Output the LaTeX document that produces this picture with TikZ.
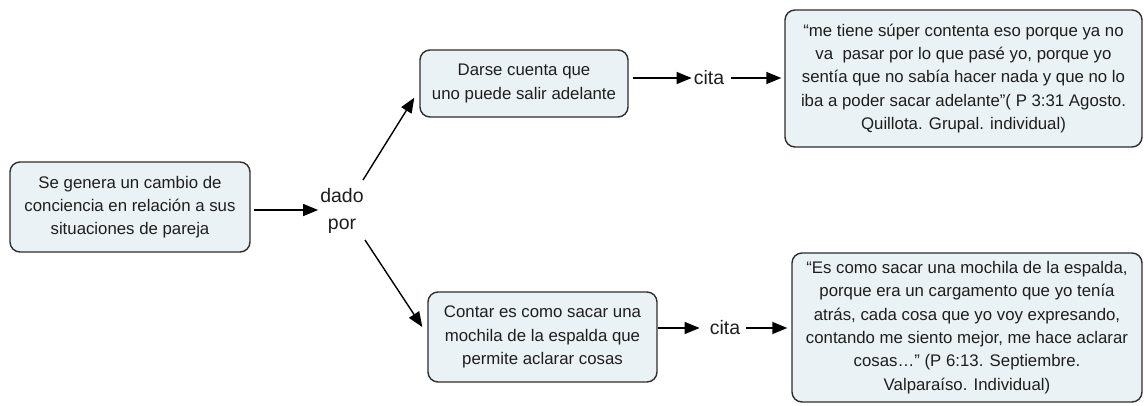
\documentclass[tikz,border=0pt]{standalone}
\usepackage{fontspec}
\setmainfont{Liberation Sans}
\usetikzlibrary{arrows.meta,calc}
\definecolor{boxfill}{RGB}{235,242,245}
\definecolor{boxline}{RGB}{45,45,45}
\definecolor{txt}{RGB}{30,30,30}
\tikzset{
  concept/.style={draw=boxline, line width=1.4pt, fill=boxfill, rounded corners=10pt,
    align=center, text=txt, inner sep=2pt,
    font=\fontsize{16.8}{23.3}\selectfont},
  linklabel/.style={text=txt, inner sep=2pt, align=center,
    font=\fontsize{19.5}{27}\selectfont},
  conn/.style={draw=black, line width=1.4pt, -{Triangle[length=15pt,width=12pt]}}
}
\begin{document}
\begin{tikzpicture}[x=1pt,y=-1pt]
\useasboundingbox (0,0) rectangle (1144,405);

\node[concept, minimum width=240pt, minimum height=90pt] (A) at (130,207)
  {Se genera un cambio de\\conciencia en relación a sus\\situaciones de pareja};
\node[concept, minimum width=208pt, minimum height=67pt] (B) at (524,83.5)
  {Darse cuenta que\\uno puede salir adelante};
\node[concept, minimum width=357pt, minimum height=137pt] (C) at (963.5,78.5)
  {“me tiene súper contenta eso porque ya no\\va\ \ pasar por lo que pasé yo, porque yo\\sentía que no sabía hacer nada y que no lo\\iba a poder sacar adelante”( P 3:31 Agosto.\\Quillota. Grupal. individual)};
\node[concept, minimum width=229pt, minimum height=90pt] (D) at (542.5,337)
  {Contar es como sacar una\\mochila de la espalda que\\permite aclarar cosas};
\node[concept, minimum width=350pt, minimum height=149pt] (E) at (967,327.5)
  {“Es como sacar una mochila de la espalda,\\porque era un cargamento que yo tenía\\atrás, cada cosa que yo voy expresando,\\contando me siento mejor, me hace aclarar\\cosas…” (P 6:13. Septiembre.\\Valparaíso. Individual)};

\node[linklabel] (dado) at (342,211) {dado\\por};
\node[linklabel] (cita1) at (709,78) {cita};
\node[linklabel] (cita2) at (725,328) {cita};

\coordinate (a1) at ($(A.east)+(0,3)$);
\coordinate (u1) at ($(dado.center)+(21,-31)$);
\coordinate (u2) at ($(B.south west)+(-5,-20)$);
\coordinate (l1) at ($(dado.center)+(23,29)$);
\coordinate (l2) at ($(D.west)+(-5,-10)$);
\coordinate (c2) at ($(cita2.west)+(-8,0)$);

\draw[conn, shorten <=3pt] (a1) -- (a1 -| dado.west);
\draw[conn] (u1) -- (u2);
\draw[conn] (l1) -- (l2);
\draw[conn, shorten <=4pt] (B.east |- cita1) -- (cita1.west);
\draw[conn, shorten <=5pt, shorten >=3pt] (cita1.east) -- (C.west |- cita1);
\draw[conn] (D.east |- cita2) -- (c2);
\draw[conn, shorten <=4pt, shorten >=4pt] (cita2.east) -- (E.west |- cita2);
\end{tikzpicture}
\end{document}
